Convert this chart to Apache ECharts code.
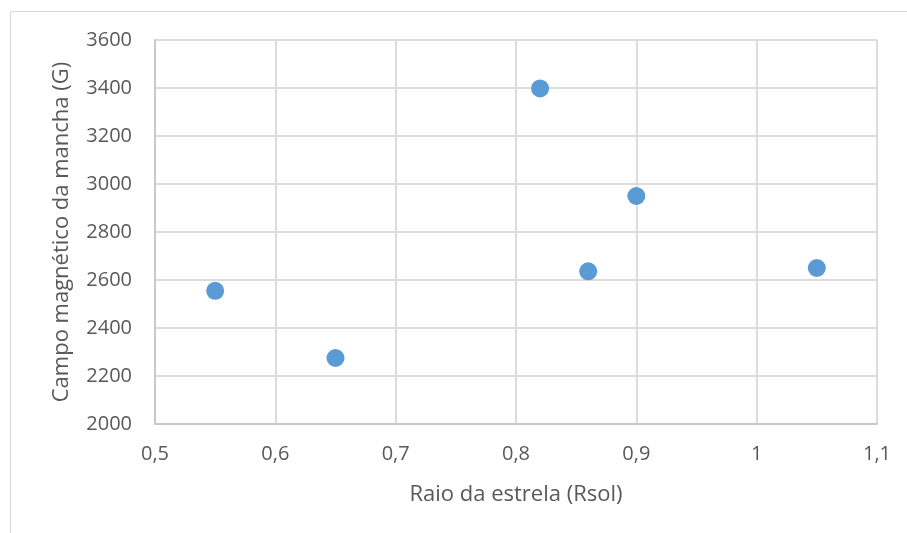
<!DOCTYPE html>
<html>
<head>
<meta charset="utf-8">
<script src="https://cdn.jsdelivr.net/npm/echarts@6/dist/echarts.min.js"></script>
<style>
  html, body { margin: 0; padding: 0; background: #ffffff; }
  #chart { width: 907px; height: 533px; }
</style>
</head>
<body>
<div id="chart"></div>
<script>
// Star radius (solar radii) and spot magnetic field (gauss)
const raio = [0.55, 0.65, 0.82, 0.86, 0.90, 1.05];
const campo = [2555, 2275, 3398, 2636, 2950, 2650];

const xTitle = 'Raio da estrela (Rsol)';
const yTitle = 'Campo magnético da mancha (G)';

const points = raio.map((r, i) => [r, campo[i]]);

const font = '"Open Sans", "Noto Sans", sans-serif';
const textColor = '#595959';

const chart = echarts.init(document.getElementById('chart'), null, { renderer: 'canvas' });
chart.setOption({
  backgroundColor: '#ffffff',
  animation: false,
  grid: { left: 155, top: 40, width: 722, height: 384, containLabel: false },
  graphic: [
    { type: 'line', shape: { x1: 10, y1: 11.5, x2: 907, y2: 11.5 }, style: { stroke: '#d9d9d9', lineWidth: 1 } },
    { type: 'line', shape: { x1: 10.5, y1: 11, x2: 10.5, y2: 533 }, style: { stroke: '#d9d9d9', lineWidth: 1 } }
  ],
  xAxis: {
    type: 'value',
    min: 0.5, max: 1.1, interval: 0.1,
    name: xTitle,
    nameLocation: 'middle',
    nameGap: 60,
    nameTextStyle: { color: textColor, fontSize: 22, fontFamily: font },
    axisLine: { show: true, lineStyle: { color: '#c8c8c8', width: 2 } },
    axisTick: { show: false },
    splitLine: { show: true, lineStyle: { color: '#dcdcdc', width: 2 } },
    axisLabel: {
      color: textColor, fontSize: 20, fontFamily: font, margin: 20,
      formatter: v => (Math.round(v * 10) / 10).toString().replace('.', ',')
    }
  },
  yAxis: {
    type: 'value',
    min: 2000, max: 3600, interval: 200,
    name: yTitle,
    nameLocation: 'middle',
    nameGap: 82,
    nameTextStyle: { color: textColor, fontSize: 22, fontFamily: font },
    axisLine: { show: true, lineStyle: { color: '#c8c8c8', width: 2 } },
    axisTick: { show: false },
    splitLine: { show: true, lineStyle: { color: '#dcdcdc', width: 2 } },
    axisLabel: {
      color: textColor, fontSize: 20, fontFamily: font, margin: 23,
      formatter: v => String(v)
    }
  },
  series: [{
    type: 'scatter',
    data: points,
    symbol: 'circle',
    symbolSize: 18,
    itemStyle: { color: '#5b9bd5', opacity: 1 }
  }]
});
</script>
</body>
</html>
